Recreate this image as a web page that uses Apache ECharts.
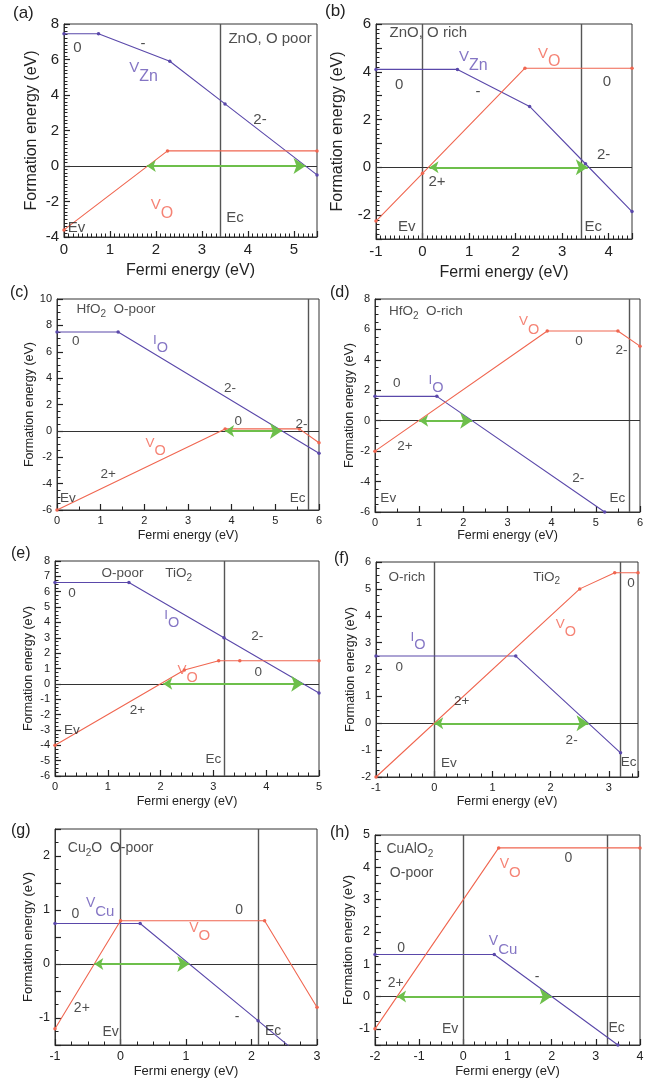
<!DOCTYPE html>
<html><head><meta charset="utf-8">
<script src="https://cdn.jsdelivr.net/npm/echarts@6/dist/echarts.min.js"></script>
<style>html,body{margin:0;padding:0;background:#fff}#c{width:651px;height:1081px}</style>
</head><body><div id="c"></div>
<script>
// ---------------- data (x = Fermi energy eV, y = formation energy eV) ----------------
const a_VZn = [[0,7.45],[0.75,7.45],[2.3,5.9],[3.5,3.5],[5.5,-0.5]];
const a_VO  = [[0,-3.6],[2.25,0.85],[5.5,0.85]];
const a_arrow = [1.8,5.25];
const a_bands = [3.4];

const b_VZn = [[-1,4.1],[0.75,4.1],[2.3,2.55],[3.5,0.15],[4.5,-1.85]];
const b_VO  = [[-1,-2.25],[0,-0.25],[2.2,4.15],[4.5,4.15]];
const b_arrow = [0.15,3.55];
const b_bands = [0,3.4];

const c_IO = [[0,7.5],[1.4,7.5],[6,-1.7]];
const c_VO = [[0,-6],[3.85,0.15],[5.55,0.15],[6,-0.9]];
const c_arrow = [3.85,5.15];
const c_bands = [5.75];

const d_VO = [[0,-2],[3.9,5.9],[5.5,5.9],[6,4.9]];
const d_IO = [[0,1.6],[1.4,1.6],[5.2,-6]];
const d_arrow = [1.0,2.2];
const d_bands = [5.75];

const e_IO = [[0,6.6],[1.4,6.6],[3.2,3.0],[5,-0.6]];
const e_VO = [[0,-4],[2.45,0.9],[3.1,1.5],[3.5,1.5],[5,1.5]];
const e_arrow = [2.05,4.7];
const e_bands = [3.2];

const f_VO = [[-1,-2],[2.5,5.0],[3.1,5.6],[3.5,5.6]];
const f_IO = [[-1,2.5],[1.4,2.5],[3.2,-1.1]];
const f_arrow = [0,2.65];
const f_bands = [0,3.2];

const g_VO  = [[-1,-1.2],[0,0.8],[2.2,0.8],[3,-0.8]];
const g_VCu = [[-1,0.75],[0.3,0.75],[2.1,-1.05],[2.6,-1.55]];
const g_arrow = [-0.4,1.05];
const g_bands = [0,2.1];

const h_VO  = [[-2,-1],[0.8,4.6],[4,4.6]];
const h_VCu = [[-2,1.3],[0.7,1.3],[3.5,-1.5]];
const h_arrow = [-1.5,2.0];
const h_bands = [0,3.25];

// text annotations: [x, y, main, sub, colour, tail]
const a_notes = [[4.48,7.19,'ZnO, O poor','','k'],[0.29,6.63,'0','','k'],[1.72,6.9,'-','','k'],
  [1.73,5.54,'V','Zn','p'],[4.26,2.59,'2-','','k'],[2.13,-2.2,'V','O','r'],[0.27,-3.47,'Ev','','k'],[3.72,-2.93,'Ec','','k']];
const b_notes = [[0.125,5.61,'ZnO, O rich','','k'],[1.09,4.63,'V','Zn','p'],[2.72,4.77,'V','O','r'],
  [-0.5,3.45,'0','','k'],[1.19,3.17,'-','','k'],[3.96,3.59,'0','','k'],[3.89,0.52,'2-','','k'],
  [0.31,-0.6,'2+','','k'],[-0.34,-2.48,'Ev','','k'],[3.67,-2.48,'Ec','','k']];
const c_notes = [[1.35,9.19,'HfO','2','k','  O-poor'],[0.43,6.83,'0','','k'],[2.37,6.86,'I','O','p'],
  [3.96,3.24,'2-','','k'],[4.15,0.71,'0','','k'],[5.6,0.53,'2-','','k'],[2.26,-0.94,'V','O','r'],
  [1.17,-3.3,'2+','','k'],[0.25,-5.1,'Ev','','k'],[5.51,-5.1,'Ec','','k']];
const d_notes = [[1.15,7.17,'HfO','2','k','  O-rich'],[3.49,6.51,'V','O','r'],[4.62,5.19,'0','','k'],
  [5.58,4.65,'2-','','k'],[0.49,2.46,'0','','k'],[1.38,2.68,'I','O','p'],[0.68,-1.71,'2+','','k'],
  [4.6,-3.81,'2-','','k'],[0.3,-5.13,'Ev','','k'],[5.49,-5.13,'Ec','','k']];
const e_notes = [[1.28,7.2,'O-poor','','k'],[2.34,7.2,'TiO','2','k'],[0.32,5.9,'0','','k'],
  [2.21,4.48,'I','O','p'],[3.83,3.07,'2-','','k'],[2.51,0.9,'V','O','r'],[3.85,0.73,'0','','k'],
  [1.56,-1.74,'2+','','k'],[0.32,-3.0,'Ev','','k'],[3.0,-4.91,'Ec','','k']];
const f_notes = [[-0.47,5.44,'O-rich','','k'],[1.93,5.44,'TiO','2','k'],[3.38,5.22,'0','','k'],
  [2.26,3.68,'V','O','r'],[-0.28,3.21,'I','O','p'],[-0.6,2.1,'0','','k'],[0.47,0.83,'2+','','k'],
  [2.36,-0.65,'2-','','k'],[0.25,-1.5,'Ev','','k'],[3.34,-1.46,'Ec','','k']];
const g_notes = [[-0.15,2.15,'Cu','2','k','O  O-poor'],[-0.69,0.92,'0','','k'],[-0.31,1.12,'V','Cu','p'],
  [1.81,0.99,'0','','k'],[1.21,0.67,'V','O','r'],[-0.59,-0.81,'2+','','k'],[1.78,-0.98,'-','','k'],
  [-0.15,-1.27,'Ev','','k'],[2.33,-1.24,'Ec','','k']];
const h_notes = [[-1.21,4.56,'CuAlO','2','k'],[-1.17,3.81,'O-poor','','k'],[1.06,4.09,'V','O','r'],
  [2.38,4.27,'0','','k'],[0.9,1.7,'V','Cu','p'],[-1.41,1.5,'0','','k'],[-1.53,0.43,'2+','','k'],
  [1.67,0.61,'-','','k'],[-0.3,-1.0,'Ev','','k'],[3.47,-0.97,'Ec','','k']];

// ---------------- layout ----------------
const FONT = '"Liberation Sans", Arial, Helvetica, sans-serif';
const PURPLE = '#5a48aa', RED = '#f06650', GREEN = '#6dbf4b', INK = '#222';
const TXT = {k: INK, p: '#6552b5', r: '#f26452'};

// x:[min,max,interval,minorSplit,labelStep], y likewise
const layouts = [
 {tag:'(a)', tx:26, ty:15, left:64, top:24, w:253, h:213, x:[0,5.5,1,10,1], y:[-4,8,2,10,2], tick:15, name:16, note:15, xg:26, yg:24},
 {tag:'(b)', tx:338, ty:13, left:376, top:24, w:256, h:215, x:[-1,4.5,1,10,1], y:[-3,6,1,5,2], tick:15, name:16, note:15, xg:26, yg:30},
 {tag:'(c)', tx:23, ty:295, left:57, top:299, w:262, h:211, x:[0,6,1,2,1], y:[-6,10,2,4,2], tick:11, name:12.5, note:13.5, xg:19, yg:21},
 {tag:'(d)', tx:343, ty:295, left:375, top:299, w:265, h:213, x:[0,6,1,2,1], y:[-6,8,2,4,2], tick:11, name:12.5, note:13.5, xg:17.5, yg:19},
 {tag:'(e)', tx:24, ty:556, left:55, top:561, w:264, h:215, x:[0,5,1,5,1], y:[-6,8,1,4,1], tick:11, name:12.5, note:13.5, xg:19.5, yg:20},
 {tag:'(f)', tx:347, ty:561, left:376, top:562, w:262, h:215, x:[-1,3.5,1,5,1], y:[-2,6,1,4,1], tick:11, name:12.5, note:13.5, xg:18.5, yg:18},
 {tag:'(g)', tx:24, ty:833, left:55, top:829, w:262, h:216, x:[-1,3,1,4,1], y:[-1.5,2.5,0.5,2,1], tick:12.5, name:13, note:14, xg:19.5, yg:20.5},
 {tag:'(h)', tx:343, ty:835, left:375, top:835, w:265, h:210, x:[-2,4,1,4,1], y:[-1.5,5,0.5,2,1], tick:12.5, name:13, note:14, xg:19.5, yg:17.5}
];

const panels = [
 {curves:[[a_VZn,PURPLE],[a_VO,RED]], arrow:a_arrow, bands:a_bands, notes:a_notes},
 {curves:[[b_VZn,PURPLE],[b_VO,RED]], arrow:b_arrow, bands:b_bands, notes:b_notes},
 {curves:[[c_IO,PURPLE],[c_VO,RED]], arrow:c_arrow, bands:c_bands, notes:c_notes},
 {curves:[[d_IO,PURPLE],[d_VO,RED]], arrow:d_arrow, bands:d_bands, notes:d_notes},
 {curves:[[e_IO,PURPLE],[e_VO,RED]], arrow:e_arrow, bands:e_bands, notes:e_notes},
 {curves:[[f_IO,PURPLE],[f_VO,RED]], arrow:f_arrow, bands:f_bands, notes:f_notes},
 {curves:[[g_VCu,PURPLE],[g_VO,RED]], arrow:g_arrow, bands:g_bands, notes:g_notes},
 {curves:[[h_VCu,PURPLE],[h_VO,RED]], arrow:h_arrow, bands:h_bands, notes:h_notes}
];

function stepFmt(step){
  return v => { const r = v/step; return Math.abs(r - Math.round(r)) < 1e-6 ? String(Math.round(v*100)/100) : ''; };
}
function axis(i, r, L, isX){
  return {
    gridIndex:i, type:'value', min:r[0], max:r[1], interval:r[2],
    axisLine:{show:true, onZero:false, lineStyle:{color:'#333', width:1}},
    axisTick:{show:true, inside:true, length:6, lineStyle:{color:'#222', width:1.2}},
    minorTick:{show:true, splitNumber:r[3], length:3.5, lineStyle:{color:'#222', width:1}},
    splitLine:{show:false}, minorSplitLine:{show:false},
    axisLabel:{fontSize:L.tick, color:INK, margin:5, fontFamily:FONT, formatter:stepFmt(r[4]), showMinLabel:true, showMaxLabel:true},
    name: isX ? 'Fermi energy (eV)' : 'Formation energy (eV)',
    nameLocation:'middle', nameGap: isX ? L.xg : L.yg,
    nameTextStyle:{fontSize:L.name, color:INK, fontFamily:FONT}
  };
}

const option = {animation:false, backgroundColor:'#fff', textStyle:{fontFamily:FONT},
  grid:[], xAxis:[], yAxis:[], series:[], graphic:[]};

panels.forEach((P,i)=>{
  const L = layouts[i];
  option.grid.push({left:L.left, top:L.top, width:L.w, height:L.h, show:true, borderColor:'#333', borderWidth:1, backgroundColor:'rgba(0,0,0,0)'});
  option.xAxis.push(axis(i, L.x, L, true));
  option.yAxis.push(axis(i, L.y, L, false));
  // band edges (Ev / Ec)
  P.bands.forEach(b => option.series.push({type:'lines', coordinateSystem:'cartesian2d', xAxisIndex:i, yAxisIndex:i, silent:true, z:1,
    symbol:'none', lineStyle:{color:'#555', width:1.4, opacity:1}, data:[{coords:[[b,L.y[0]],[b,L.y[1]]]}]}));
  // zero line
  option.series.push({type:'lines', coordinateSystem:'cartesian2d', xAxisIndex:i, yAxisIndex:i, silent:true, z:1,
    symbol:'none', lineStyle:{color:'#333', width:1, opacity:1}, data:[{coords:[[L.x[0],0],[L.x[1],0]]}]});
  // defect curves
  P.curves.forEach(([d,col]) => option.series.push({type:'line', xAxisIndex:i, yAxisIndex:i, silent:true, z:3,
    data:d, symbol:'circle', symbolSize:3.5, showSymbol:true, itemStyle:{color:col}, lineStyle:{color:col, width:1.1}}));
  // green double arrow
  option.series.push({type:'lines', coordinateSystem:'cartesian2d', xAxisIndex:i, yAxisIndex:i, silent:true, z:4,
    symbol:['arrow','arrow'], symbolSize:[9,12], lineStyle:{color:GREEN, width:2, opacity:1},
    data:[{coords:[[P.arrow[0],0],[P.arrow[1],0]]}]});
  // annotations
  const fs = L.note;
  option.series.push({type:'scatter', xAxisIndex:i, yAxisIndex:i, silent:true, z:6, symbolSize:0,
    label:{show:true, position:[0,0], align:'center', verticalAlign:'middle', fontFamily:FONT, fontSize:fs, textBorderWidth:0,
      rich:{
        n:{fontSize:fs, fontFamily:FONT},
        s:{fontSize:fs+1, fontFamily:FONT, padding:[Math.round(fs*1.15),0,0,0]},
        f:{fontSize:Math.round(fs*0.72), fontFamily:FONT, padding:[Math.round(fs*0.7),0,0,0]}
      }},
    data:P.notes.map(([x,y,m,s,c,t]) => ({value:[x,y], label:{color:TXT[c],
      formatter:`{n|${m}}` + (s ? (c==='k' ? `{f|${s}}` : `{s|${s}}`) : '') + (t ? `{n|${t}}` : '')}}))
  });
  option.graphic.push({type:'text', left:L.tx - 13, top:L.ty - 10, style:{text:L.tag, fontSize: i<2 ? 17 : 16, fill:INK, fontFamily:FONT}});
});

const chart = echarts.init(document.getElementById('c'), null, {renderer:'canvas', width:651, height:1081});
chart.setOption(option);
</script>
</body></html>
